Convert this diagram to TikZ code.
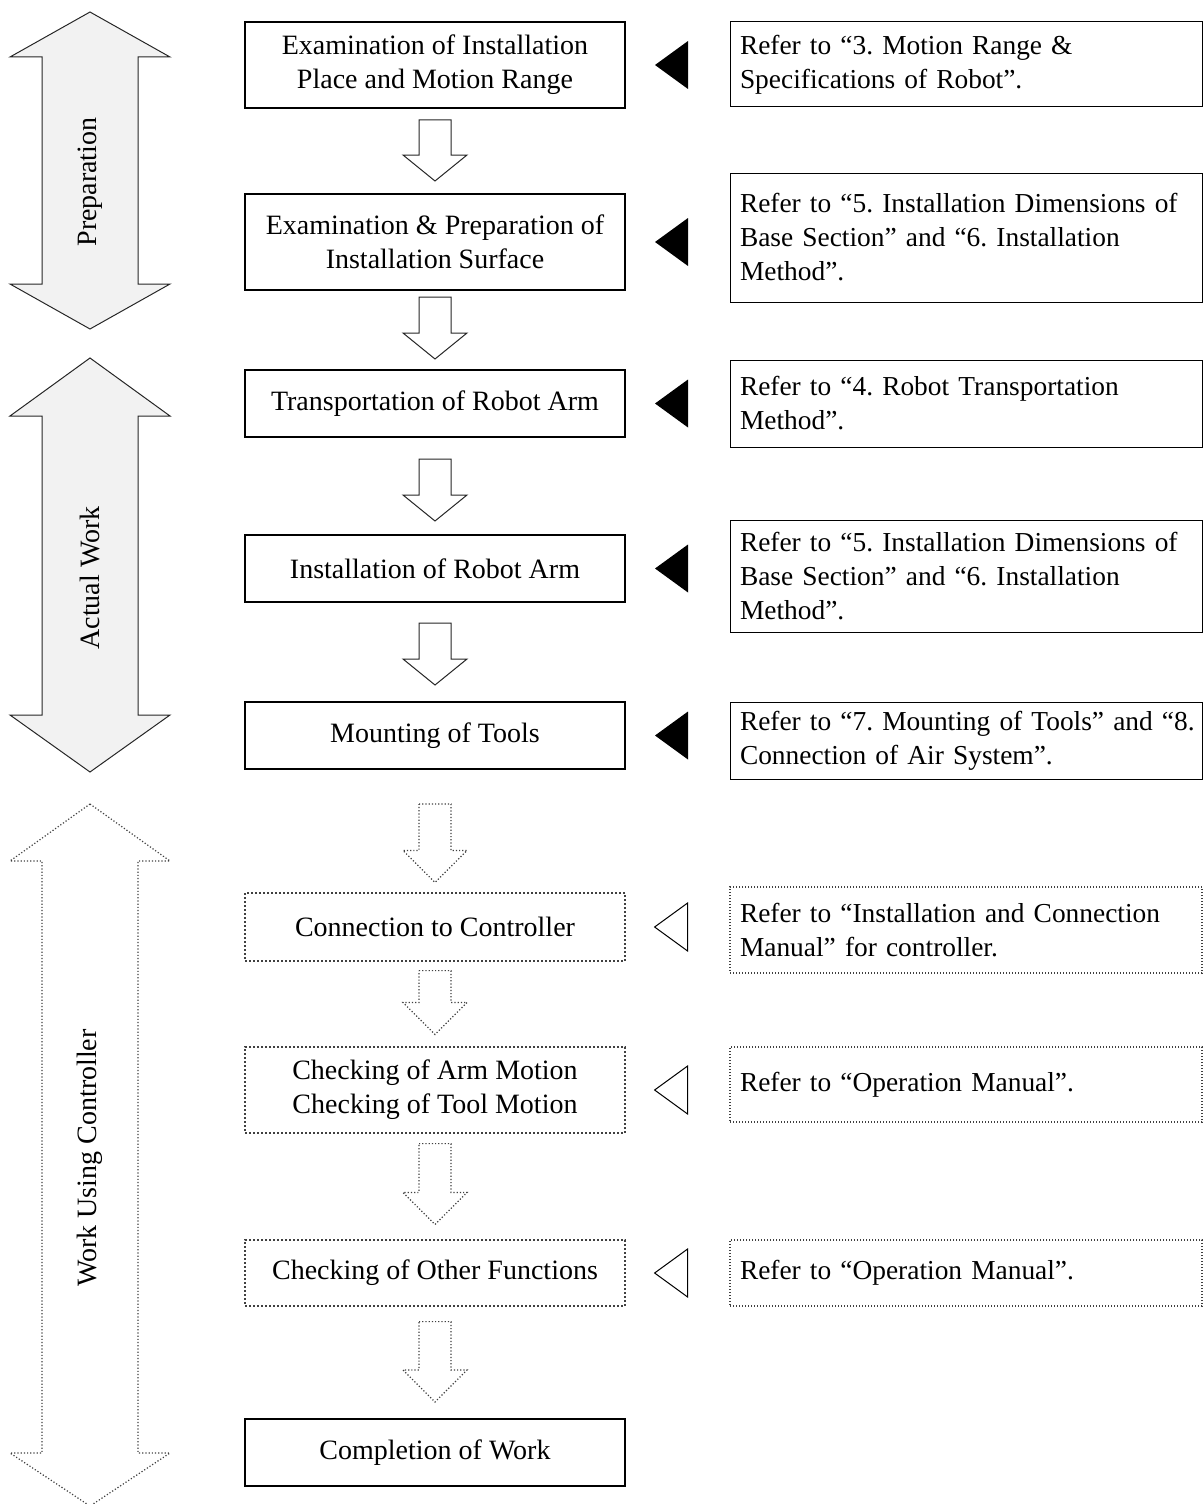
\documentclass[tikz,border=0pt]{standalone}
\usepackage{fontspec}
\setmainfont{Liberation Serif}
\usetikzlibrary{calc}
\frenchspacing

\tikzset{
	phase/.style={draw=black!85, fill=black!5, line width=0.5pt},
	phasedot/.style={draw=black!75, densely dotted, line width=0.6pt},
	stepbox/.style={draw, line width=1pt, minimum width=190pt, align=center, inner sep=0pt},
	stepdot/.style={stepbox, draw=black!75, densely dotted, line width=0.6pt},
	refbox/.style={draw, line width=0.5pt, minimum width=236pt, text width=226pt, align=left, inner xsep=5pt, inner ysep=0pt,
		font=\fontsize{13.7}{17}\selectfont},
	refdot/.style={refbox, draw=black!75, densely dotted, line width=0.6pt},
	flow/.style={draw=black!85, fill=white, line width=0.5pt},
	flowdot/.style={draw=black!75, fill=white, densely dotted, line width=0.6pt},
	pointer/.style={fill=black},
	pointerdot/.style={draw, fill=white, line width=0.5pt}
}

\begin{document}
\begin{tikzpicture}[x=0.5pt, y=-0.5pt, font=\fontsize{14}{17}\selectfont]
	\useasboundingbox (0,0) rectangle (1203,1504);

	\foreach \t/\u/\v/\w/\sty in {12/57/284/329/phase, 358/416/715/772/phase, 804/861/1453/1506/phasedot}
	{
		\draw[\sty] (90,\t) -- (170,\u) -- (138,\u) -- (138,\v) -- (170,\v) -- (90,\w)
			-- (10,\v) -- (42,\v) -- (42,\u) -- (10,\u) -- cycle;
	}
	\node[rotate=90] (lbl_prep) at (90,182) {Preparation};
	\node[rotate=90] (lbl_work) at (90,578) {Actual Work};
	\node[rotate=90] (lbl_ctrl) at (90,1158) {Work Using Controller};

	\node[stepbox, minimum height=43pt] (b1) at (435,65) {Examination of Installation\\Place and Motion Range};
	\node[stepbox, minimum height=48pt] (b2) at (435,242) {Examination \& Preparation of\\Installation Surface};
	\node[stepbox, minimum height=33.5pt] (b3) at (435,403.5) {Transportation of Robot Arm};
	\node[stepbox, minimum height=33.5pt] (b4) at (435,568.5) {Installation of Robot Arm};
	\node[stepbox, minimum height=33.5pt] (b5) at (435,735.5) {Mounting of Tools};
	\node[stepdot, minimum height=34pt] (b6) at (435,927) {Connection to Controller};
	\node[stepdot, minimum height=43pt] (b7) at (435,1090) {Checking of Arm Motion\\Checking of Tool Motion};
	\node[stepdot, minimum height=33pt] (b8) at (435,1273) {Checking of Other Functions};
	\node[stepbox, minimum height=33.5pt] (b9) at (435,1452.5) {Completion of Work};

	\node[refbox, minimum height=42.5pt] (r1) at (966,64.5) {Refer to “3. Motion Range \&\\Specifications of Robot”.};
	\node[refbox, minimum height=64.5pt] (r2) at (966,237.5) {Refer to “5. Installation Dimensions of\\Base Section” and “6. Installation\\Method”.};
	\node[refbox, minimum height=43.5pt] (r3) at (966,403.5) {Refer to “4. Robot Transportation\\Method”.};
	\node[refbox, minimum height=56pt] (r4) at (966,576) {Refer to “5. Installation Dimensions of\\Base Section” and “6. Installation\\Method”.};
	\node[refbox, minimum height=38.5pt] (r5) at (966,740.5) {\mbox{Refer to “7. Mounting of Tools” and “8.}\\Connection of Air System”.};
	\node[refdot, minimum height=43pt] (r6) at (966,930) {Refer to “Installation and Connection\\Manual” for controller.};
	\node[refdot, minimum height=37.5pt] (r7) at (966,1084.5) {Refer to “Operation Manual”.};
	\node[refdot, minimum height=33pt] (r8) at (966,1273) {Refer to “Operation Manual”.};

	\foreach \a/\b/\s/\e/\h/\sty in {b1/b2/5.5pt/6pt/13pt/flow, b2/b3/3pt/5pt/13pt/flow,
		b3/b4/10.5pt/6.5pt/13pt/flow, b4/b5/10pt/8pt/13pt/flow, b5/b6/17pt/5pt/16pt/flowdot,
		b6/b7/4.5pt/6pt/16pt/flowdot, b7/b8/5pt/7.5pt/16pt/flowdot, b8/b9/7.5pt/8pt/16pt/flowdot}
	{
		\draw[\sty] let \p1 = ($(\a.south)+(0,-\s)$), \p2 = ($(\b.north)+(0,\e)$) in
			(\x1-8pt,\y1) -- (\x1+8pt,\y1) -- (\x1+8pt,\y2+\h) -- (\x1+16pt,\y2+\h)
			-- (\x1,\y2) -- (\x1-16pt,\y2+\h) -- (\x1-8pt,\y2+\h) -- cycle;
	}

	\foreach \b/\sty in {b1/pointer, b2/pointer, b3/pointer, b4/pointer, b5/pointer, b6/pointerdot, b7/pointerdot, b8/pointerdot}
	{
		\path[\sty] ($(\b.east)+(14.5pt,0)$) -- ++(16.5pt,12pt) -- ++(0,-24pt) -- cycle;
	}
\end{tikzpicture}
\end{document}
